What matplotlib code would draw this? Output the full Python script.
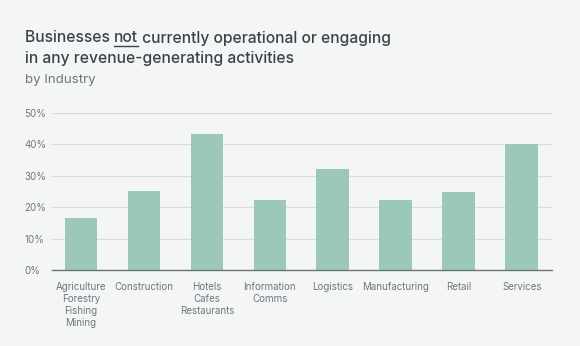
import matplotlib.pyplot as plt
import numpy as np

industries = ["Agriculture\nForestry\nFishing\nMining", "Construction", "Hotels\nCafes\nRestaurants",
              "Information\nComms", "Logistics", "Manufacturing", "Retail", "Services"]
share = [16.6, 25.2, 43.2, 22.3, 32.1, 22.3, 24.7, 40.2]
yticks = [0, 10, 20, 30, 40, 50]

bg = "#f4f6f6"
bar_col = "#9bc8b8"
dark = "#3c424c"
grey = "#6f7680"

plt.rcParams['font.family'] = ['Inter', 'DejaVu Sans']

fig = plt.figure(figsize=(5.8, 3.46), dpi=100)
fig.patch.set_facecolor(bg)
ax = fig.add_axes([52 / 580, 1 - 270 / 346, 500 / 580, 157 / 346])
ax.set_facecolor(bg)

x = np.arange(len(industries))
ax.bar(x, share, width=0.52, color=bar_col, zorder=2)
ax.set_xlim(-0.46, 7.48)
ax.set_ylim(0, 50)
ax.set_yticks(yticks)
ax.set_yticklabels([f"{v}%" for v in yticks])
ax.set_xticks(x)
ax.set_xticklabels(industries, linespacing=1.25)
ax.tick_params(axis='both', length=0, labelsize=7, colors=grey)
ax.tick_params(axis='x', pad=9)
ax.tick_params(axis='y', pad=20)
for lab in ax.get_yticklabels():
    lab.set_ha('left')
ax.grid(axis='y', color="#d8dcdc", linewidth=0.9, zorder=0)
for s in ['top', 'right', 'left']:
    ax.spines[s].set_visible(False)
ax.spines['bottom'].set_color("#6e7378")
ax.spines['bottom'].set_linewidth(1.0)
ax.spines['bottom'].set_zorder(3)

# title with underlined "not"
fig.canvas.draw()
r = fig.canvas.get_renderer()
ty = 1 - 38 / 346
x0 = 25 / 580
tsize = 11.25
kw = dict(fontsize=tsize, color=dark, va='center', fontweight='medium')
t1 = fig.text(x0, ty, "Businesses ", **kw)
bb = t1.get_window_extent(r)
t2 = fig.text(bb.x1 / 580, ty, "not", **kw)
bb2 = t2.get_window_extent(r)
fig.text(bb2.x1 / 580, ty, " currently operational or engaging", **kw)
fig.add_artist(plt.Line2D([bb2.x0 / 580, bb2.x1 / 580], [1 - 46 / 346] * 2, color=dark, linewidth=1.0,
                          transform=fig.transFigure))
fig.text(x0, 1 - 59 / 346, "in any revenue-generating activities", **kw)
fig.text(x0, 1 - 80 / 346, "by Industry", fontsize=9.6, color=grey, va='center')

fig.savefig("out.png", dpi=100, facecolor=bg)
